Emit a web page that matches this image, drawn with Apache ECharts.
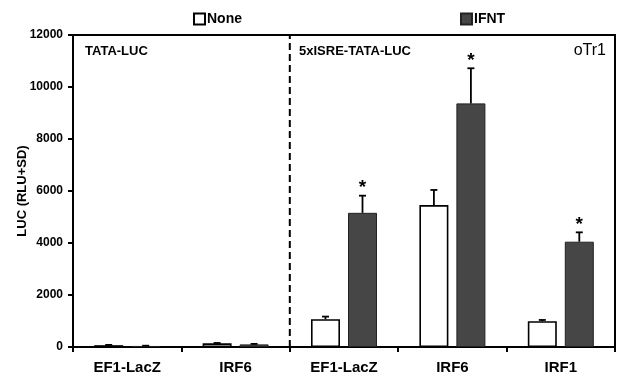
<!DOCTYPE html>
<html><head><meta charset="utf-8">
<script src="https://cdn.jsdelivr.net/npm/echarts@6/dist/echarts.min.js"></script>
<style>html,body{margin:0;padding:0;background:#fff}#c{width:625px;height:381px}</style>
</head><body><div id="c"></div>
<script>
var categories = ['EF1-LacZ', 'IRF6', 'EF1-LacZ', 'IRF6', 'IRF1'];
var noneValues = [70, 140, 1070, 5460, 990];
var noneSD = [10, 15, 100, 580, 50];
var ifntValues = [40, 100, 5160, 9370, 4050];
var ifntSD = [10, 20, 660, 1350, 360];
var ifntSignificant = [false, false, true, true, true];
var yTicks = {min: 0, max: 12000, interval: 2000};
var panelLabels = ['TATA-LUC', '5xISRE-TATA-LUC'];
var cellLabel = 'oTr1';
var dividerAt = 2; // boundary between category 1 and 2

var FONT = 'Arial, "Liberation Sans", sans-serif';
var DARK = '#464646';
var BAR_W = 29, BAR_GAP = 8;

function errData(vals, sd, sig) {
  return vals.map(function (v, i) { return [i, v, v + sd[i], sig ? (sig[i] ? 1 : 0) : 0]; });
}
function errRender(offset) {
  return function (params, api) {
    var x = api.value(0), v = api.value(1), top = api.value(2), sig = api.value(3);
    var p0 = api.coord([x, v]), p1 = api.coord([x, top]);
    var cx = p0[0] + offset;
    var children = [
      {type: 'line', shape: {x1: cx, y1: p0[1], x2: cx, y2: p1[1]}, style: {stroke: '#000', lineWidth: 1.8}},
      {type: 'line', shape: {x1: cx - 3.5, y1: p1[1], x2: cx + 3.5, y2: p1[1]}, style: {stroke: '#000', lineWidth: 1.8}}
    ];
    if (sig) {
      children.push({type: 'text', style: {text: '*', x: cx, y: p1[1] - 8, align: 'center', verticalAlign: 'middle',
        font: 'bold 19px ' + FONT, fill: '#000'}});
    }
    return {type: 'group', children: children};
  };
}
function dividerRender(params, api) {
  var a = api.coord([dividerAt, yTicks.min]), b = api.coord([dividerAt, yTicks.max]);
  return {type: 'line', shape: {x1: a[0], y1: a[1], x2: b[0], y2: b[1]},
    style: {stroke: '#000', lineWidth: 2, lineDash: [7, 4]}};
}

var chart = echarts.init(document.getElementById('c'));
chart.setOption({
  animation: false,
  textStyle: {fontFamily: FONT},
  legend: [
    {data: ['None'], icon: 'rect', left: 188, top: 7, itemWidth: 11, itemHeight: 11, itemGap: 2,
      textStyle: {fontFamily: FONT, fontWeight: 'bold', fontSize: 14, color: '#000', padding: [0, 0, 0, -3]}},
    {data: ['IFNT'], icon: 'rect', left: 455, top: 7, itemWidth: 11, itemHeight: 11, itemGap: 2,
      textStyle: {fontFamily: FONT, fontWeight: 'bold', fontSize: 14, color: '#000', padding: [0, 0, 0, -3]}}
  ],
  title: [
    {text: panelLabels[0], left: 85, top: 45, textStyle: {fontFamily: FONT, fontWeight: 'bold', fontSize: 13, color: '#000'}, padding: 0},
    {text: panelLabels[1], left: 299, top: 45, textStyle: {fontFamily: FONT, fontWeight: 'bold', fontSize: 13, color: '#000'}, padding: 0},
    {text: cellLabel, right: 19, top: 43, textStyle: {fontFamily: FONT, fontWeight: 'normal', fontSize: 16, color: '#000'}, padding: 0}
  ],
  grid: {left: 73, right: 10, top: 35, bottom: 34, show: true, borderColor: '#000', borderWidth: 2, backgroundColor: 'transparent'},
  xAxis: [
    {type: 'category', data: categories,
      axisLine: {lineStyle: {color: '#000', width: 2}},
      axisTick: {show: true, length: 5, lineStyle: {color: '#000', width: 2}},
      axisLabel: {color: '#000', fontWeight: 'bold', fontSize: 15, margin: 13, fontFamily: FONT}},
    {type: 'value', min: 0, max: categories.length, show: false}
  ],
  yAxis: {type: 'value', min: yTicks.min, max: yTicks.max, interval: yTicks.interval,
    name: 'LUC (RLU+SD)', nameLocation: 'middle', nameGap: 44, nameMoveOverlap: false,
    nameTextStyle: {color: '#000', fontWeight: 'bold', fontSize: 13, fontFamily: FONT},
    axisLine: {show: true, lineStyle: {color: '#000', width: 2}},
    axisTick: {show: true, length: 5, lineStyle: {color: '#000', width: 2}},
    axisLabel: {color: '#000', fontWeight: 'bold', fontSize: 12, margin: 10, fontFamily: FONT,
      formatter: function (v) { return String(v); }},
    splitLine: {show: false}},
  series: [
    {name: 'None', type: 'bar', data: noneValues, barWidth: BAR_W, barGap: (BAR_GAP / BAR_W * 100) + '%',
      itemStyle: {color: '#fff', borderColor: '#000', borderWidth: 1.6}},
    {name: 'IFNT', type: 'bar', data: ifntValues, barWidth: BAR_W,
      itemStyle: {color: DARK, borderColor: '#222', borderWidth: 1}},
    {type: 'custom', data: errData(noneValues, noneSD), renderItem: errRender(-(BAR_W + BAR_GAP) / 2),
      encode: {x: 0, y: [1, 2]}, z: 5, silent: true},
    {type: 'custom', data: errData(ifntValues, ifntSD, ifntSignificant), renderItem: errRender((BAR_W + BAR_GAP) / 2),
      encode: {x: 0, y: [1, 2]}, z: 5, silent: true},
    {type: 'custom', xAxisIndex: 1, data: [[dividerAt, 0]], renderItem: dividerRender, z: 4, silent: true}
  ]
});
</script></body></html>
